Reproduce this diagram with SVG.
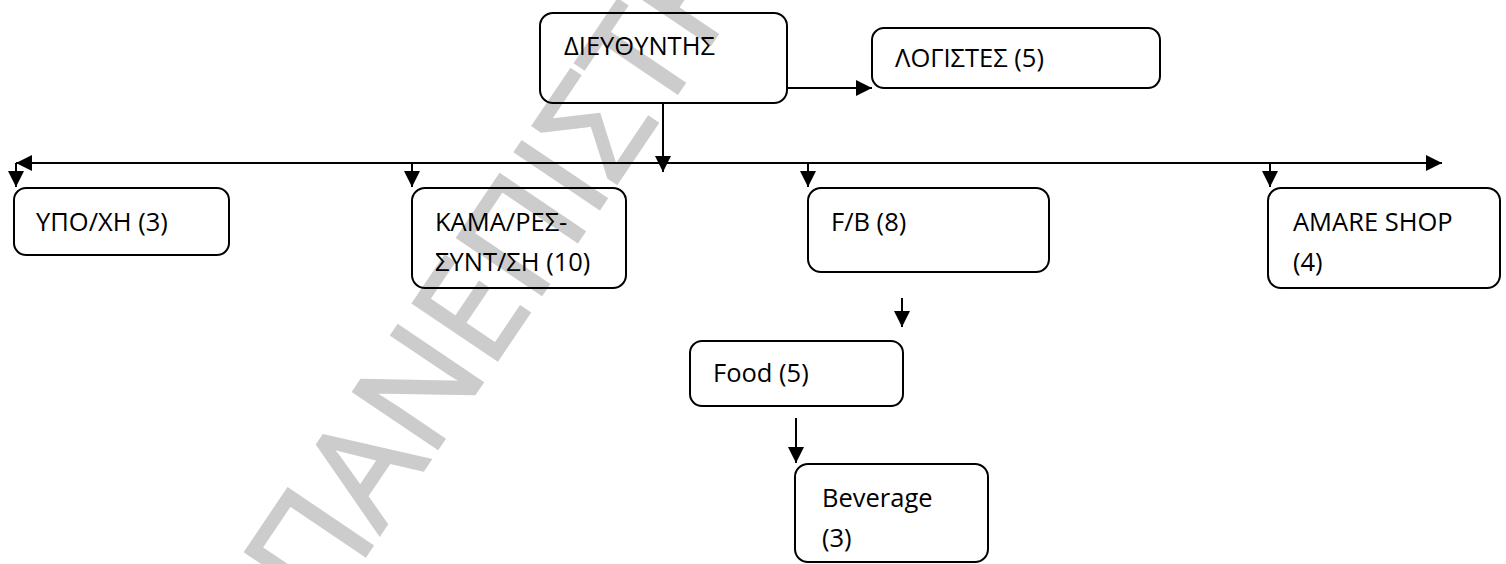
<svg xmlns="http://www.w3.org/2000/svg" width="1506" height="564" viewBox="0 0 1506 564">
<style>
.box{fill:none;stroke:#000;stroke-width:2}
.lbl{font-family:"Open Sans","Noto Sans",sans-serif;font-size:25.5px;fill:#000}
.con{stroke:#000;stroke-width:2;fill:none}
.wm{font-family:"Open Sans","Noto Sans",sans-serif;font-size:142px;fill:#cccccc;stroke:#cccccc;stroke-width:3;stroke-linejoin:miter}
</style>
<defs>
<marker id="arr" viewBox="0 0 16 16" refX="16" refY="8" markerWidth="16" markerHeight="16" markerUnits="userSpaceOnUse" orient="auto-start-reverse">
<path d="M0,0 L16,8 L0,16 z" fill="#000"/>
</marker>
</defs>
<rect width="1506" height="564" fill="#fff"/>
<text class="wm" transform="translate(322,620) rotate(-56)">ΠΑΝΕΠΙΣΤΗ</text>
<g id="connectors">
<line class="con" x1="787" y1="88" x2="872" y2="88" marker-end="url(#arr)"/>
<line class="con" x1="663" y1="103" x2="663" y2="172" marker-end="url(#arr)"/>
<line class="con" x1="16" y1="163" x2="1442" y2="163" marker-start="url(#arr)" marker-end="url(#arr)"/>
<line class="con" x1="16" y1="163" x2="16" y2="187" marker-end="url(#arr)"/>
<line class="con" x1="412" y1="163" x2="412" y2="187" marker-end="url(#arr)"/>
<line class="con" x1="808" y1="163" x2="808" y2="187" marker-end="url(#arr)"/>
<line class="con" x1="1270" y1="163" x2="1270" y2="187" marker-end="url(#arr)"/>
<line class="con" x1="902" y1="298" x2="902" y2="327" marker-end="url(#arr)"/>
<line class="con" x1="796" y1="418" x2="796" y2="463" marker-end="url(#arr)"/>
</g>
<g id="n-dieythyntis">
<rect class="box" x="540" y="13" width="247" height="90" rx="13"/>
<text class="lbl" x="564" y="55">ΔΙΕΥΘΥΝΤΗΣ</text>
</g>
<g id="n-logistes">
<rect class="box" x="872" y="28" width="288" height="60" rx="12"/>
<text class="lbl" x="895" y="67">ΛΟΓΙΣΤΕΣ (5)</text>
</g>
<g id="n-ypoxi">
<rect class="box" x="14" y="188" width="215" height="67" rx="12"/>
<text class="lbl" x="36" y="231">ΥΠΟ/ΧΗ (3)</text>
</g>
<g id="n-kama">
<rect class="box" x="412" y="188" width="214" height="100" rx="13"/>
<text class="lbl" x="435" y="231">ΚΑΜΑ/ΡΕΣ-</text>
<text class="lbl" x="435" y="271">ΣΥΝΤ/ΣΗ (10)</text>
</g>
<g id="n-fb">
<rect class="box" x="808" y="188" width="241" height="84" rx="13"/>
<text class="lbl" x="831" y="231">F/B (8)</text>
</g>
<g id="n-amare">
<rect class="box" x="1268" y="188" width="232" height="100" rx="13"/>
<text class="lbl" x="1293" y="231">AMARE SHOP</text>
<text class="lbl" x="1293" y="271">(4)</text>
</g>
<g id="n-food">
<rect class="box" x="690" y="341" width="213" height="65" rx="12"/>
<text class="lbl" x="713" y="382">Food (5)</text>
</g>
<g id="n-beverage">
<rect class="box" x="795" y="464" width="193" height="98" rx="13"/>
<text class="lbl" x="822" y="507">Beverage</text>
<text class="lbl" x="822" y="547">(3)</text>
</g>
</svg>
